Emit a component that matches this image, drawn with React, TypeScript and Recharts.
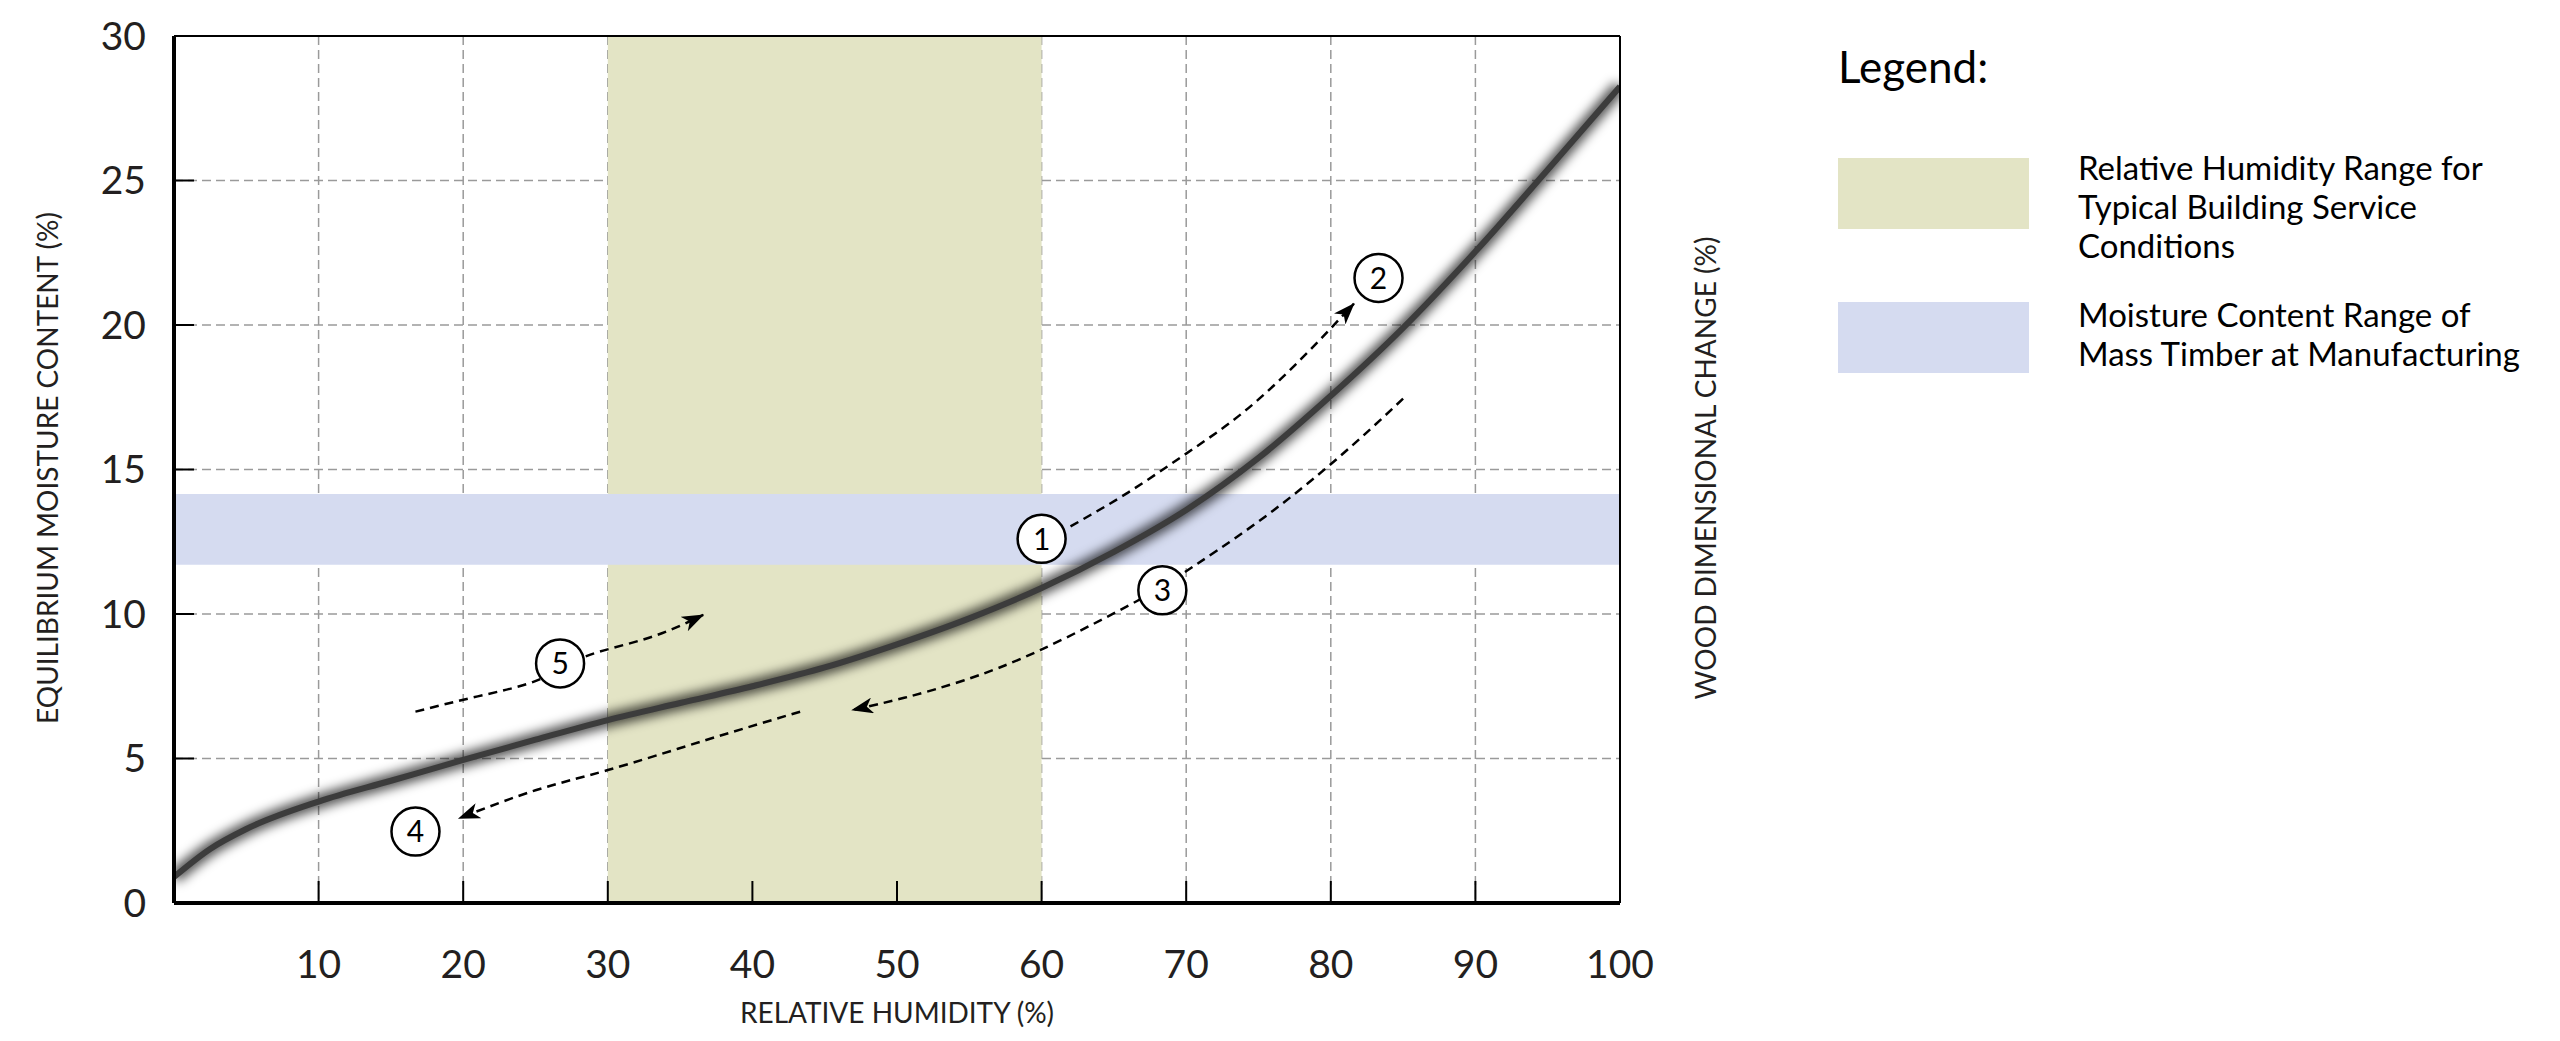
import {
  CartesianGrid,
  Line,
  LineChart,
  ReferenceArea,
  ReferenceDot,
  ReferenceLine,
  XAxis,
  YAxis,
} from 'recharts';

// equilibrium moisture content curve (RH %, EMC %)
const humidity = [0, 2.5, 5, 10, 15, 20, 25, 30, 35, 40, 45, 50, 55, 60, 65, 70, 75, 80, 85, 90, 95, 100];
const moisture = [0.9, 1.87, 2.56, 3.51, 4.23, 4.95, 5.65, 6.33, 6.92, 7.5, 8.15, 8.95, 9.85, 10.9, 12.15, 13.6, 15.4, 17.55, 19.9, 22.54, 25.37, 28.25];

const xTicks = [10, 20, 30, 40, 50, 60, 70, 80, 90, 100];
const leftTicks = [0, 5, 10, 15, 20, 25, 30];
const rightTicks = [1, 2, 3, 4, 5, 6];

// shaded ranges
const serviceRange = [30, 60]; // RH %
const manufacturingRange = [11.7, 14.15]; // MC %

// numbered markers: [label, RH, MC]
const markers: [string, number, number][] = [
  ['1', 60.0, 12.6],
  ['2', 83.3, 21.63],
  ['3', 68.35, 10.82],
  ['4', 16.7, 2.47],
  ['5', 26.7, 8.29],
];

// dashed arrow paths, drawn from start to arrow tip
const arrow12X = [62.0, 66.0, 70.0, 74.0, 78.0, 81.6];
const arrow12Y = [13.03, 14.21, 15.55, 17.0, 18.85, 20.74];
const arrow3X = [85.0, 80.5, 75.0, 69.9, 66.6, 59.9, 54.6, 50.5, 46.9];
const arrow3Y = [17.45, 15.4, 13.2, 11.45, 10.45, 8.75, 7.7, 7.1, 6.68];
const arrow4X = [43.3, 36.8, 30.0, 25.0, 19.7];
const arrow4Y = [6.62, 5.64, 4.6, 3.9, 2.93];
const arrow5X = [16.7, 21.0, 25.2, 28.4, 32.8, 36.6];
const arrow5Y = [6.62, 7.15, 7.72, 8.52, 9.17, 9.97];

const zip = (xs: number[], ys: number[]) => xs.map((x, i) => ({ x, y: ys[i] }));

const curveData = zip(humidity, moisture);
const arrows = [
  zip(arrow12X, arrow12Y),
  zip(arrow3X, arrow3Y),
  zip(arrow4X, arrow4Y),
  zip(arrow5X, arrow5Y),
];

const FONT = 'Lato, "DejaVu Sans", sans-serif';
const TEXT = '#231f20';

export default function App() {
  return (
    <div style={{ position: 'absolute', left: 0, top: 0, width: 2560, height: 1041, background: '#fff', fontFamily: FONT }}>
      <svg width={0} height={0} style={{ position: 'absolute' }}>
        <defs>
          <filter id="curveBlur" x="-10%" y="-10%" width="120%" height="120%">
            <feGaussianBlur stdDeviation="5.5" />
          </filter>
          <marker
            id="arrowHead"
            viewBox="0 0 22 16"
            refX={21}
            refY={8}
            markerWidth={22}
            markerHeight={16}
            markerUnits="userSpaceOnUse"
            orient="auto"
          >
            <path d="M0,0 L22,8 L0,16 L6,8 Z" fill="#000" />
          </marker>
        </defs>
      </svg>

      <LineChart width={1780} height={1041} margin={{ top: 36, right: 0, bottom: 0, left: 0 }}>
        <XAxis
          type="number"
          dataKey="x"
          domain={[0, 100]}
          ticks={xTicks}
          allowDataOverflow
          height={138}
          axisLine={{ stroke: '#000', strokeWidth: 4 }}
          tickLine={{ stroke: '#000', strokeWidth: 2 }}
          tickSize={-22}
          tickMargin={69}
          tick={{ fontSize: 39, fill: TEXT, fontFamily: FONT }}
        />
        <YAxis
          yAxisId="left"
          type="number"
          domain={[0, 30]}
          ticks={leftTicks}
          allowDataOverflow
          width={174}
          axisLine={{ stroke: '#000', strokeWidth: 4 }}
          tickLine={{ stroke: '#000', strokeWidth: 2 }}
          tickSize={-20}
          tickMargin={48}
          tick={{ fontSize: 39, fill: TEXT, fontFamily: FONT }}
        />
        <YAxis
          yAxisId="right"
          orientation="right"
          type="number"
          domain={[0, 6]}
          ticks={rightTicks}
          width={160}
          axisLine={{ stroke: '#000', strokeWidth: 2 }}
          tickLine={false}
          tickSize={0}
          tickMargin={25}
          tick={{ fontSize: 39, fill: TEXT, fontFamily: FONT }}
        />

        <ReferenceArea
          yAxisId="left"
          x1={serviceRange[0]}
          x2={serviceRange[1]}
          y1={0}
          y2={30}
          fill="#e3e4c5"
          fillOpacity={1}
          stroke="none"
        />
        <ReferenceArea
          yAxisId="left"
          x1={0}
          x2={100}
          y1={manufacturingRange[0]}
          y2={manufacturingRange[1]}
          fill="#d5dbf0"
          fillOpacity={1}
          stroke="none"
        />

        <CartesianGrid
          yAxisId="left"
          stroke="#9a9a9a"
          strokeWidth={1.5}
          strokeDasharray="9 5"
        />
        <ReferenceLine yAxisId="left" y={30} stroke="#000" strokeWidth={2} />

        <Line
          yAxisId="left"
          data={curveData}
          dataKey="y"
          type="monotone"
          stroke="#000"
          strokeOpacity={0.7}
          strokeWidth={14}
          filter="url(#curveBlur)"
          dot={false}
          activeDot={false}
          isAnimationActive={false}
        />
        <Line
          yAxisId="left"
          data={curveData}
          dataKey="y"
          type="monotone"
          stroke="#3c3c3c"
          strokeWidth={6}
          dot={false}
          activeDot={false}
          isAnimationActive={false}
        />

        {arrows.map((pts, i) => (
          <Line
            key={i}
            yAxisId="left"
            data={pts}
            dataKey="y"
            type="natural"
            stroke="#000"
            strokeWidth={2.5}
            strokeDasharray="9 6"
            markerEnd="url(#arrowHead)"
            dot={false}
            activeDot={false}
            isAnimationActive={false}
          />
        ))}

        {markers.map(([label, x, y]) => (
          <ReferenceDot
            key={label}
            yAxisId="left"
            x={x}
            y={y}
            r={24}
            fill="#fff"
            stroke="#000"
            strokeWidth={2.5}
            label={{ value: label, position: 'center', fontSize: 30, fill: '#000', fontFamily: FONT }}
          />
        ))}
      </LineChart>

      <svg width={1780} height={1041} style={{ position: 'absolute', left: 0, top: 0, pointerEvents: 'none' }}>
        <text x={58} y={468} transform="rotate(-90 58 468)" textAnchor="middle" fontSize={28} fill={TEXT} fontFamily={FONT}>
          EQUILIBRIUM MOISTURE CONTENT (%)
        </text>
        <text x={1716} y={468} transform="rotate(-90 1716 468)" textAnchor="middle" fontSize={28} fill={TEXT} fontFamily={FONT}>
          WOOD DIMENSIONAL CHANGE (%)
        </text>
        <text x={897} y={1023} textAnchor="middle" fontSize={28} fill={TEXT} fontFamily={FONT}>
          RELATIVE HUMIDITY (%)
        </text>
      </svg>

      <div style={{ position: 'absolute', left: 1838, top: 40, fontSize: 44, lineHeight: 1.2, color: '#000' }}>Legend:</div>
      <div style={{ position: 'absolute', left: 1838, top: 158, width: 191, height: 71, background: '#e3e4c5' }} />
      <div style={{ position: 'absolute', left: 2078, top: 148, fontSize: 33, lineHeight: '39px', color: '#000', width: 480 }}>
        Relative Humidity Range for
        <br />
        Typical Building Service
        <br />
        Conditions
      </div>
      <div style={{ position: 'absolute', left: 1838, top: 302, width: 191, height: 71, background: '#d5dbf0' }} />
      <div style={{ position: 'absolute', left: 2078, top: 295, fontSize: 33, lineHeight: '39px', color: '#000', width: 480 }}>
        Moisture Content Range of
        <br />
        Mass Timber at Manufacturing
      </div>
    </div>
  );
}
